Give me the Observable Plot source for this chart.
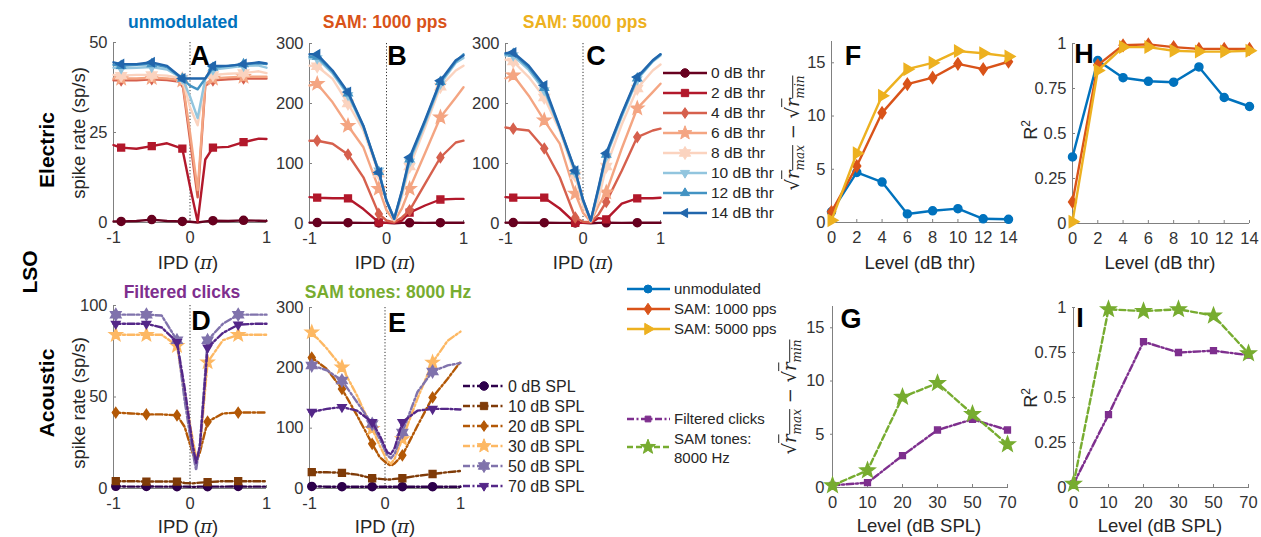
<!DOCTYPE html>
<html><head><meta charset="utf-8">
<script src="https://cdn.jsdelivr.net/npm/d3@7"></script>
<script src="https://cdn.jsdelivr.net/npm/@observablehq/plot@0.6"></script>
<style>
body{margin:0;background:#fff;}
#root{position:relative;width:1261px;height:537px;overflow:hidden;font-family:"Liberation Sans",Arial,Helvetica,sans-serif;color:#262626;}
.t{position:absolute;white-space:nowrap;transform:translate(-50%,-50%);line-height:1;}
.rot{position:absolute;white-space:nowrap;transform:translate(-50%,-50%) rotate(-90deg);line-height:1;}
.pi{font-family:"DejaVu Serif","Liberation Serif",serif;font-style:italic;}
svg{overflow:visible;}
</style></head><body><div id="root"></div>
<script>
// ---------------- DATA ----------------
// Electric stimulation, IPD tuning (x in units of pi)
const ipdE = [-1, -0.9, -0.7, -0.5, -0.3, -0.1, 0, 0.1, 0.2, 0.3, 0.5, 0.7, 0.9, 1];
const markerIdxE = [1, 3, 5, 9, 11];
const elecLevels = ["0 dB thr", "2 dB thr", "4 dB thr", "6 dB thr", "8 dB thr", "10 dB thr", "12 dB thr", "14 dB thr"];
const elecColors = ["#67001f", "#b2182b", "#d6604d", "#f4a582", "#fbd3bf", "#92c5de", "#4393c3", "#2166ac"];
const elecSymbols = ["circle", "square", "diamond", "star", "hexagram", "triDown", "triUp", "triLeft"];

// Panel A: unmodulated
const rateA0  = [0.3, 0.3, 0.4, 0.8, 0.4, 0.3, 0.2, 0.0, 0.3, 0.5, 0.4, 0.6, 0.5, 0.4];
const rateA2  = [21.5, 20.8, 20.5, 21.2, 22, 20.5, 10, 0.2, 17.5, 20.8, 21, 22.3, 23.3, 23.2];
const rateA4  = [39.5, 39.5, 39.5, 39.8, 39.6, 39, 23, 7, 38, 39.5, 39.8, 40, 40, 40];
const rateA6  = [40, 40, 40, 40.2, 40, 39.5, 25, 9, 38.5, 40, 40.3, 40.5, 40.5, 40.5];
const rateA8  = [41, 40.8, 41, 41, 40.8, 40, 32, 27, 40, 41, 41.3, 41.5, 42, 41.5];
const rateA10 = [43, 42.8, 43, 43.2, 42.5, 40, 35, 29, 40, 42.5, 43, 43.5, 43.6, 43];
const rateA12 = [43.8, 43.5, 43.8, 44, 43.2, 40, 38, 37, 40, 43, 43.5, 44, 44.2, 44];
const rateA14 = [44.5, 44, 44, 44.5, 43.5, 40, 40, 40, 40, 43.5, 43.5, 44, 44.5, 44.2];

// Panel B: SAM 1000 pps
const rateB0  = [1.5, 1.5, 1.2, 1.3, 1, 1, 1, 0.5, 1, 1.2, 1, 1.3, 1.2, 1.2];
const rateB2  = [44, 43, 42, 42, 24, 2, 1, 1, 5, 18, 30, 40, 41, 41];
const rateB4  = [138, 138, 133, 115, 77, 16, 5, 2, 10, 22, 66, 110, 135, 138];
const rateB6  = [230, 233, 202, 163, 127, 58, 22, 4, 25, 58, 117, 177, 210, 227];
const rateB8  = [263, 262, 241, 200, 155, 83, 35, 6, 45, 95, 160, 228, 255, 263];
const rateB10 = [275, 275, 250, 214, 160, 88, 38, 7, 50, 103, 166, 233, 268, 276];
const rateB12 = [278, 278, 253, 217, 162, 86, 38, 8, 53, 107, 170, 236, 270, 282];
const rateB14 = [282, 282, 255, 219, 163, 85, 38, 8, 55, 110, 172, 238, 272, 280];

// Panel C: SAM 5000 pps
const rateC0  = [1.5, 1.5, 1.2, 1.3, 1, 1, 1, 0.5, 1, 1.2, 1, 1.3, 1.2, 1.2];
const rateC2  = [44, 43, 43, 43, 25, 1, 1, 1, 9, 7, 33, 42, 42, 43];
const rateC4  = [160, 158, 155, 125, 77, 10, 3, 2, 15, 36, 88, 144, 155, 158];
const rateC6  = [242, 247, 213, 172, 133, 50, 18, 3, 30, 52, 125, 192, 219, 233];
const rateC8  = [273, 270, 244, 210, 155, 80, 30, 4, 40, 95, 165, 225, 255, 265];
const rateC10 = [280, 280, 256, 222, 158, 85, 38, 5, 55, 112, 178, 240, 270, 280];
const rateC12 = [282, 283, 260, 226, 159, 87, 39, 5, 58, 115, 181, 242, 271, 282];
const rateC14 = [284, 285, 263, 230, 160, 88, 40, 5, 60, 117, 183, 244, 272, 282];

// Acoustic stimulation
const ipdA = [-1, -0.97, -0.77, -0.57, -0.37, -0.17, -0.07, 0.03, 0.08, 0.13, 0.23, 0.43, 0.63, 0.83, 1];
const markerIdxA = [1, 3, 5, 10, 12];
const acLevels = ["0 dB SPL", "10 dB SPL", "20 dB SPL", "30 dB SPL", "50 dB SPL", "70 dB SPL"];
const acColors = ["#2d004b", "#7f3b08", "#b35806", "#fdb863", "#8073ac", "#542788"];
const acSymbols = ["circle", "square", "diamond", "star", "hexagram", "triDown"];

// Panel D: filtered clicks
const rateD0  = [1.2, 1.2, 1, 1.1, 1, 1, 1, 0.9, 0.9, 1, 1, 1, 1.1, 1, 1];
const rateD10 = [4, 4, 4, 3.8, 3.8, 3.8, 3, 2.8, 3, 3.2, 3.5, 4, 4, 4, 4];
const rateD20 = [41.5, 41.5, 41, 40.5, 40.5, 40, 33.7, 20, 14, 20, 36.5, 41, 41.5, 41.5, 41.5];
const rateD30 = [84, 84, 84, 84, 84, 78, 52, 28, 17, 22, 69, 81, 84, 84, 84];
const rateD50 = [95, 95, 95, 95, 94.5, 81, 48, 21, 10, 25, 81, 90, 95, 95, 95];
const rateD70 = [90, 90, 90, 90, 88, 80, 55, 25, 14, 23, 77, 85, 89.5, 90, 90];

// Panel E: SAM tones 8000 Hz
const rateE0  = [3.5, 3.5, 3, 3, 3, 3, 3, 3, 3, 3, 3, 3, 3, 3, 3];
const rateE10 = [27, 27, 27, 26, 23, 17, 16, 15, 15, 16, 17, 21, 24, 27, 29];
const rateE20 = [215, 217, 198, 165, 121, 74, 52, 41, 38, 42, 55, 104, 151, 182, 210];
const rateE30 = [258, 259, 232, 201, 154, 99, 71, 46, 41, 50, 82, 149, 209, 245, 260];
const rateE50 = [204, 204, 196, 179, 143, 107, 82, 55, 50, 58, 93, 160, 194, 204, 208];
const rateE70 = [127, 127, 132, 135, 129, 110, 88, 60, 57, 68, 110, 129, 132, 132, 131];

// Summary panels
const levelsThr = [0, 2, 4, 6, 8, 10, 12, 14];
const depthUnmod   = [1.0, 4.7, 3.8, 0.8, 1.1, 1.3, 0.35, 0.3];
const depthSam1000 = [1.0, 5.3, 10.3, 13.0, 13.6, 14.9, 14.4, 15.1];
const depthSam5000 = [0.2, 6.5, 11.9, 14.4, 15.0, 16.1, 15.9, 15.6];
const r2Unmod   = [0.37, 0.905, 0.81, 0.79, 0.785, 0.87, 0.70, 0.65];
const r2Sam1000 = [0.12, 0.88, 0.99, 0.995, 0.98, 0.97, 0.97, 0.97];
const r2Sam5000 = [0.01, 0.85, 0.98, 0.98, 0.96, 0.955, 0.955, 0.96];
const levelsSPL = [0, 10, 20, 30, 50, 70];
const depthClicks = [0.2, 0.45, 3.0, 5.4, 6.4, 5.4];
const depthTones  = [0.2, 1.6, 8.5, 9.8, 6.9, 4.05];
const r2Clicks = [0.02, 0.405, 0.81, 0.75, 0.76, 0.735];
const r2Tones  = [0.02, 0.99, 0.98, 0.99, 0.955, 0.745];
const summaryNames = ["unmodulated", "SAM: 1000 pps", "SAM: 5000 pps", "Filtered clicks", "SAM tones: 8000 Hz"];
const summaryColors = ["#0072BD", "#D95319", "#EDB120", "#7E2F8E", "#77AC30"];
const summarySymbols = ["circle", "diamond", "triRight", "square", "star"];

const refIPD = [0];
const ipdTicks = [-1, 0, 1];

// ---------------- DRAWING ----------------
const root = document.getElementById("root");
const FONT = '"Liberation Sans", Arial, Helvetica, sans-serif';

function polySym(pts, k = 1) {
  return {draw(ctx, size) {
    const r = Math.sqrt(size / Math.PI) * k;
    pts.forEach(([x, y], i) => i ? ctx.lineTo(x * r, y * r) : ctx.moveTo(x * r, y * r));
    ctx.closePath();
  }};
}
function starPts(n, inner) {
  const p = [];
  for (let i = 0; i < 2 * n; i++) {
    const a = -Math.PI / 2 + i * Math.PI / n, rr = i % 2 ? inner : 1;
    p.push([rr * Math.cos(a), rr * Math.sin(a)]);
  }
  return p;
}
const SYM = {
  circle: d3.symbolCircle,
  square: polySym([[-0.85, -0.85], [0.85, -0.85], [0.85, 0.85], [-0.85, 0.85]]),
  diamond: polySym([[0, -1.25], [0.85, 0], [0, 1.25], [-0.85, 0]]),
  star: polySym(starPts(5, 0.42), 1.45),
  hexagram: polySym(starPts(6, 0.58), 1.3),
  triDown: polySym([[0, 1.2], [-1.05, -0.6], [1.05, -0.6]]),
  triUp: polySym([[0, -1.2], [1.05, 0.6], [-1.05, 0.6]]),
  triLeft: polySym([[-1.2, 0], [0.6, -1.05], [0.6, 1.05]]),
  triRight: polySym([[1.2, 0], [-0.6, -1.05], [-0.6, 1.05]])
};

const fmt = d => String(d);

function panel(box, xs, xTicks, ys, yTicks, marks) {
  const ml = 55, mr = 14, mt = 14, mb = 34;
  const svg = Plot.plot({
    width: box.r - box.l + ml + mr, height: box.b - box.t + mt + mb,
    marginLeft: ml, marginRight: mr, marginTop: mt, marginBottom: mb,
    style: {background: "transparent", fontFamily: FONT, fontSize: "16.5px", color: "#262626", overflow: "visible"},
    x: xs, y: ys,
    marks: [
      Plot.axisX(xTicks, {tickSize: -3, tickPadding: 12, tickFormat: fmt, stroke: "#808080", fill: "#333", label: null}),
      Plot.axisY(yTicks, {tickSize: -3, tickPadding: 9, tickFormat: fmt, stroke: "#808080", fill: "#333", label: null}),
      Plot.ruleY([ys.domain[0]], {stroke: "#808080", strokeWidth: 1}),
      Plot.ruleX([xs.domain[0]], {stroke: "#808080", strokeWidth: 1}),
      ...marks
    ]
  });
  svg.style.position = "absolute";
  svg.style.left = (box.l - ml) + "px";
  svg.style.top = (box.t - mt) + "px";
  root.appendChild(svg);
}

function seriesMarks(xArr, yArr, idx, color, sym, opts = {}) {
  const rows = xArr.map((x, i) => ({x, y: yArr[i]}));
  const mk = idx ? rows.filter((d, i) => idx.includes(i)) : rows;
  return [
    Plot.line(rows, {x: "x", y: "y", stroke: color, strokeWidth: opts.w || 2.4, strokeDasharray: opts.dash || null, strokeLinejoin: "round"}),
    Plot.dot(mk, {x: "x", y: "y", symbol: SYM[sym], fill: color, stroke: color, r: opts.r || 4})
  ];
}

function ipdPanel(box, yMax, yTicks, series, xArr, idx, colors, syms, dash) {
  const marks = [Plot.ruleX(refIPD, {stroke: "#333", strokeDasharray: "1.2,2", strokeWidth: 1})];
  series.forEach((s, i) => marks.push(...seriesMarks(xArr, s, idx, colors[i], syms[i],
    {dash, r: syms[i] === "star" || syms[i] === "hexagram" ? 4.6 : 4})));
  panel(box, {domain: [-1, 1]}, ipdTicks, {domain: [0, yMax]}, yTicks, marks);
}

ipdPanel({l: 113, r: 266, t: 42, b: 222}, 50, [0, 25, 50],
  [rateA0, rateA2, rateA4, rateA6, rateA8, rateA10, rateA12, rateA14], ipdE, markerIdxE, elecColors, elecSymbols, null);
ipdPanel({l: 309, r: 463, t: 43, b: 223}, 300, [0, 100, 200, 300],
  [rateB0, rateB2, rateB4, rateB6, rateB8, rateB10, rateB12, rateB14], ipdE, markerIdxE, elecColors, elecSymbols, null);
ipdPanel({l: 505, r: 660, t: 43, b: 223}, 300, [0, 100, 200, 300],
  [rateC0, rateC2, rateC4, rateC6, rateC8, rateC10, rateC12, rateC14], ipdE, markerIdxE, elecColors, elecSymbols, null);
ipdPanel({l: 113, r: 266, t: 305, b: 488}, 100, [0, 50, 100],
  [rateD0, rateD10, rateD20, rateD30, rateD50, rateD70], ipdA, markerIdxA, acColors, acSymbols, "7,2.5,2,2.5");
ipdPanel({l: 309, r: 460, t: 307, b: 488}, 300, [0, 100, 200, 300],
  [rateE0, rateE10, rateE20, rateE30, rateE50, rateE70], ipdA, markerIdxA, acColors, acSymbols, "7,2.5,2,2.5");

// Summary panels
const sumR = [4, 4.6, 5.4, 3.4, 5.4];
const sumDash = [null, null, null, "7,2.5,2,2.5", "6,3"];
function sumMarks(xArr, arrs, ids) {
  const m = [];
  arrs.forEach((a, j) => { const i = ids[j]; m.push(...seriesMarks(xArr, a, null, summaryColors[i], summarySymbols[i], {r: sumR[i], dash: sumDash[i], w: 2.4})); });
  return m;
}
panel({l: 831, r: 1008, t: 41, b: 222}, {domain: [0, 14]}, levelsThr, {domain: [0, 17]}, [0, 5, 10, 15],
  sumMarks(levelsThr, [depthUnmod, depthSam1000, depthSam5000], [0, 1, 2]));
panel({l: 1072, r: 1249, t: 43, b: 223}, {domain: [0, 14]}, levelsThr, {domain: [0, 1]}, [0, 0.25, 0.5, 0.75, 1],
  sumMarks(levelsThr, [r2Unmod, r2Sam1000, r2Sam5000], [0, 1, 2]));
panel({l: 830, r: 1008, t: 306, b: 487}, {type: "point", domain: levelsSPL, padding: 0}, levelsSPL, {domain: [0, 17]}, [0, 5, 10, 15],
  sumMarks(levelsSPL, [depthClicks, depthTones], [3, 4]));
panel({l: 1072, r: 1249, t: 307, b: 487}, {type: "point", domain: levelsSPL, padding: 0}, levelsSPL, {domain: [0, 1]}, [0, 0.25, 0.5, 0.75, 1],
  sumMarks(levelsSPL, [r2Clicks, r2Tones], [3, 4]));

// ---------------- LEGENDS ----------------
const ov = d3.create("svg").attr("width", 1261).attr("height", 537)
  .style("position", "absolute").style("left", "0px").style("top", "0px").style("pointer-events", "none");
function symPath(sym, r) { const p = d3.path(); SYM[sym].draw(p, Math.PI * r * r); return p.toString(); }
function legendRow(y, x1, x2, xm, xt, color, sym, r, dash, label, fs) {
  ov.append("line").attr("x1", x1).attr("x2", x2).attr("y1", y).attr("y2", y)
    .attr("stroke", color).attr("stroke-width", 2.4).attr("stroke-dasharray", dash);
  ov.append("path").attr("d", symPath(sym, r)).attr("transform", `translate(${xm},${y})`).attr("fill", color).attr("stroke", color);
  if (label) ov.append("text").attr("x", xt).attr("y", y).attr("dy", "0.35em").attr("font-size", fs)
    .attr("font-family", FONT).attr("fill", "#262626").text(label);
}
elecLevels.forEach((lab, i) => legendRow(73 + 20 * i, 663, 707, 685, 711, elecColors[i], elecSymbols[i],
  elecSymbols[i] === "star" || elecSymbols[i] === "hexagram" ? 5 : 4.3, null, lab, 15.5));
acLevels.forEach((lab, i) => legendRow(386 + 20 * i, 463, 505, 484, 508, acColors[i], acSymbols[i],
  acSymbols[i] === "star" || acSymbols[i] === "hexagram" ? 5 : 4.3, "7,2.5,2,2.5", lab, 16));
[0, 1, 2].forEach((i, k) => legendRow(289 + 20 * k, 627, 670, 648, 674, summaryColors[i], summarySymbols[i], sumR[i], null, summaryNames[i], 15));
legendRow(419, 627, 670, 648, 674, summaryColors[3], summarySymbols[3], sumR[3], sumDash[3], summaryNames[3], 15);
legendRow(447, 627, 670, 648, 674, summaryColors[4], summarySymbols[4], sumR[4], sumDash[4], null, 15);
ov.append("text").attr("x", 674).attr("y", 439).attr("dy", "0.35em").attr("font-size", 15).attr("font-family", FONT).attr("fill", "#262626").text("SAM tones:");
ov.append("text").attr("x", 674).attr("y", 458).attr("dy", "0.35em").attr("font-size", 15).attr("font-family", FONT).attr("fill", "#262626").text("8000 Hz");
root.appendChild(ov.node());

// ---------------- TEXT ----------------
function txt(html, x, y, style, cls = "t") {
  const d = document.createElement("div");
  d.className = cls; d.innerHTML = html;
  d.style.left = x + "px"; d.style.top = y + "px";
  Object.assign(d.style, style);
  root.appendChild(d);
}
const titleStyle = c => ({fontWeight: "bold", fontSize: "17.5px", color: c});
txt(summaryNames[0], 183, 23, titleStyle(summaryColors[0]));
txt(summaryNames[1], 385, 23, titleStyle(summaryColors[1]));
txt(summaryNames[2], 585, 23, titleStyle(summaryColors[2]));
txt(summaryNames[3], 182, 293, titleStyle(summaryColors[3]));
txt(summaryNames[4], 388, 293, titleStyle(summaryColors[4]));

const letterStyle = {fontWeight: "bold", fontSize: "27px", color: "#000"};
[["A", 200, 56], ["B", 397, 56], ["C", 596, 56], ["D", 201, 321], ["E", 397, 323],
 ["F", 853, 56], ["G", 851, 319], ["H", 1084, 54], ["I", 1080, 318]].forEach(([l, x, y]) => txt(l, x, y, letterStyle));

const ipdLabel = 'IPD (<span class="pi">π</span>)';
const axStyle = {fontSize: "18.5px", color: "#262626"};
[[188, 263], [385, 263], [583, 263], [188, 527], [385, 527]].forEach(([x, y]) => txt(ipdLabel, x, y, axStyle));
txt("Level (dB thr)", 920, 263, axStyle);
txt("Level (dB thr)", 1160, 263, axStyle);
txt("Level (dB SPL)", 919, 526, axStyle);
txt("Level (dB SPL)", 1160, 526, axStyle);

txt("spike rate (sp/s)", 79, 133, {fontSize: "18.5px"}, "rot");
txt("spike rate (sp/s)", 79, 403, {fontSize: "18.5px"}, "rot");
txt("Electric", 46, 150, {fontSize: "21px", fontWeight: "bold", color: "#000"}, "rot");
txt("Acoustic", 46, 393, {fontSize: "21px", fontWeight: "bold", color: "#000"}, "rot");
txt("LSO", 29, 272, {fontSize: "21px", fontWeight: "bold", color: "#000"}, "rot");

const depthLabel = '<span style="font-family:\'DejaVu Serif\',serif;font-size:18px">√<span style="text-decoration:overline"><i>r</i><sub style="font-size:12px"><i>max</i></sub></span> − √<span style="text-decoration:overline"><i>r</i><sub style="font-size:12px"><i>min</i></sub></span></span>';
txt(depthLabel, 795, 133, {}, "rot");
txt(depthLabel, 792, 397, {}, "rot");
txt('R<sup style="font-size:12px">2</sup>', 1030, 130, {fontSize: "18px"}, "rot");
txt('R<sup style="font-size:12px">2</sup>', 1030, 398, {fontSize: "18px"}, "rot");
</script></body></html>
